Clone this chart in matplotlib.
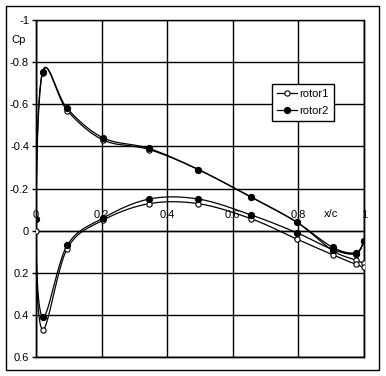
import numpy as np
import matplotlib
matplotlib.use("Agg")
import matplotlib.pyplot as plt
from matplotlib.patches import Rectangle

plt.rcParams['font.family'] = ['Liberation Sans', 'DejaVu Sans']

# ---- data (each rotor is one loop: trailing edge -> upper surface -> leading edge -> lower surface -> trailing edge)
rotor1_x = [1.0, 0.975, 0.905, 0.795, 0.655, 0.495, 0.345, 0.205, 0.095, 0.02, 0.0,
            0.02, 0.095, 0.205, 0.345, 0.495, 0.655, 0.795, 0.905, 0.975, 1.0]
rotor1_cp = [0.155, 0.14, 0.095, -0.04, -0.16, -0.29, -0.385, -0.43, -0.57, -0.75, 0.0,
             0.47, 0.086, -0.05, -0.128, -0.128, -0.057, 0.04, 0.115, 0.16, 0.175]

rotor2_x = [1.0, 0.975, 0.905, 0.795, 0.655, 0.495, 0.345, 0.205, 0.095, 0.02, 0.0,
            0.02, 0.095, 0.205, 0.345, 0.495, 0.655, 0.795, 0.905, 0.975, 1.0]
rotor2_cp = [0.05, 0.105, 0.08, -0.04, -0.16, -0.29, -0.39, -0.44, -0.58, -0.755, -0.057,
             0.41, 0.07, -0.06, -0.15, -0.15, -0.075, 0.01, 0.09, 0.11, 0.05]

series_names = ["rotor1", "rotor2"]
xtick_vals = [0, 0.2, 0.4, 0.6, 0.8, 1]
xtick_labels = ["0", "0.2", "0.4", "0.6", "0.8", "1"]
ytick_vals = [-1, -0.8, -0.6, -0.4, -0.2, 0, 0.2, 0.4, 0.6]
ytick_labels = ["-1", "-0.8", "-0.6", "-0.4", "-0.2", "0", "0.2", "0.4", "0.6"]


def smooth(xs, ys, n=24):
    P = np.column_stack([xs, ys]).astype(float)
    m = len(P)
    out = [P[0]]
    t = np.linspace(0, 1, n + 1)[1:]
    for i in range(m - 1):
        p0 = P[i - 1] if i > 0 else P[i]
        p1 = P[i]
        p2 = P[i + 1]
        p3 = P[i + 2] if i + 2 < m else P[i + 1]
        c1 = p1 + (p2 - p0) / 6.0
        c2 = p2 - (p3 - p1) / 6.0
        for tt in t:
            b = ((1 - tt) ** 3) * p1 + 3 * ((1 - tt) ** 2) * tt * c1 + 3 * (1 - tt) * tt ** 2 * c2 + tt ** 3 * p2
            out.append(b)
    out = np.array(out)
    return out[:, 0], out[:, 1]


W, H = 386, 376
FS = 8
fig = plt.figure(figsize=(W / 100, H / 100), dpi=100)
ax = fig.add_axes([36 / W, 1 - 357 / H, (364 - 36) / W, (357 - 20) / H])

ax.set_xlim(0, 1)
ax.set_ylim(0.6, -1)

# grid
ax.set_xticks(xtick_vals)
ax.set_yticks(ytick_vals)
ax.set_yticklabels(ytick_labels)
ax.grid(True, color='black', linewidth=1.0)
ax.set_axisbelow(True)

# x axis through Cp=0 with labels above it
ax.xaxis.tick_top()
ax.spines['top'].set_position(('data', 0))
ax.set_xticklabels(xtick_labels)
ax.tick_params(axis='x', length=0, pad=8, labelsize=FS)
ax.tick_params(axis='y', length=3, width=1, pad=2, labelsize=FS)
for s in ['left', 'right', 'bottom', 'top']:
    ax.spines[s].set_linewidth(1.0)
ax.add_patch(Rectangle((0, 0), 1, 1, transform=ax.transAxes, fill=False,
                       edgecolor='black', linewidth=1.0, clip_on=False, zorder=1))

# data
sx, sy = smooth(rotor1_x, rotor1_cp)
ax.plot(sx, sy, color='black', linewidth=0.9, zorder=3)
ax.plot(rotor1_x, rotor1_cp, linestyle='none', marker='o', markersize=3.8,
        markerfacecolor='white', markeredgecolor='black', markeredgewidth=0.8, zorder=4)
sx, sy = smooth(rotor2_x, rotor2_cp)
ax.plot(sx, sy, color='black', linewidth=0.9, zorder=3)
ax.plot(rotor2_x, rotor2_cp, linestyle='none', marker='o', markersize=4.2,
        markerfacecolor='black', markeredgecolor='black', zorder=5)

# legend proxies
h1, = ax.plot([], [], color='black', linewidth=0.9, marker='o', markersize=3.8,
              markerfacecolor='white', markeredgecolor='black', markeredgewidth=0.8)
h2, = ax.plot([], [], color='black', linewidth=0.9, marker='o', markersize=4.2,
              markerfacecolor='black', markeredgecolor='black')
leg = ax.legend([h1, h2], series_names, loc='upper left',
                bbox_to_anchor=(272 / W, 1 - 84 / H), bbox_transform=fig.transFigure,
                borderaxespad=0, fancybox=False, shadow=False, framealpha=1,
                edgecolor='black', fontsize=FS, numpoints=1, handlelength=1.8,
                handletextpad=0.2, labelspacing=0.6, borderpad=0.45)
leg.get_frame().set_linewidth(1.0)
leg.set_zorder(10)

# axis titles
fig.text(11 / W, 1 - 40 / H, "Cp", fontsize=FS, ha='left', va='center')
ax.text(0.9, -0.08, "x/c", fontsize=FS, ha='center', va='center',
        transform=ax.transData)

# outer chart border
fig.add_artist(Rectangle((5.5 / W, 1 - 369.5 / H), (379 - 5.5) / W, (369.5 - 6) / H,
                         transform=fig.transFigure, fill=False, edgecolor='black',
                         linewidth=1.0))

fig.savefig("out.png", dpi=100, facecolor='white')
